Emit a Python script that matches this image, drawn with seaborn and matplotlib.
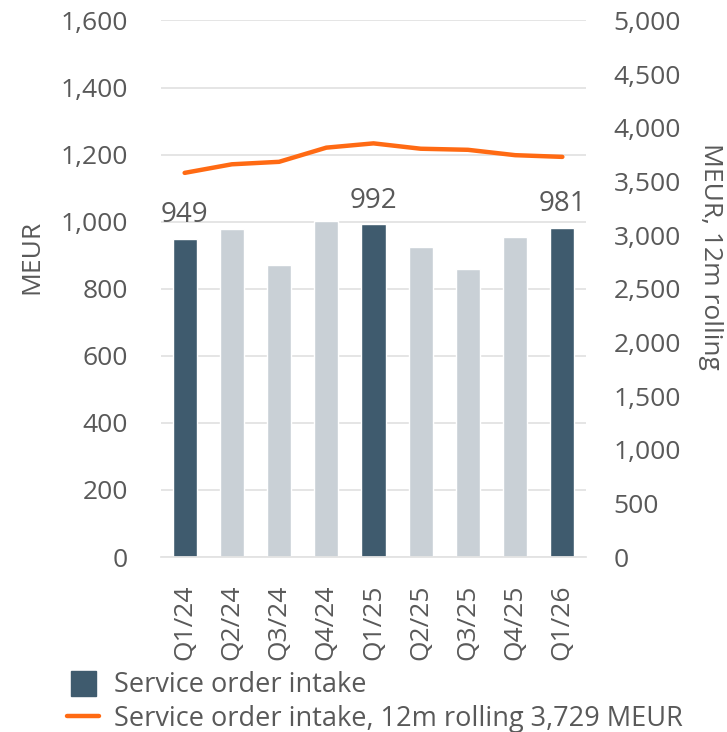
import numpy as np
import pandas as pd
import matplotlib
matplotlib.use("Agg")
import matplotlib.pyplot as plt
import seaborn as sbn
from matplotlib.lines import Line2D
from matplotlib.ticker import FuncFormatter

# Data
quarters = ["Q1/24", "Q2/24", "Q3/24", "Q4/24", "Q1/25", "Q2/25", "Q3/25", "Q4/25", "Q1/26"]
order_intake = [949, 978, 871, 1002, 992, 925, 860, 954, 981]
rolling_12m = [3580, 3660, 3683, 3815, 3855, 3805, 3795, 3745, 3729]
labelled = ["Q1/24", "Q1/25", "Q1/26"]

dark = "#3F5B6E"
light = "#C9D0D6"
orange = "#FF6A13"
grey = "#595959"

sbn.set_style("white")
plt.rcParams["font.family"] = ["Open Sans", "DejaVu Sans"]

df = pd.DataFrame({"quarter": quarters, "intake": order_intake, "rolling": rolling_12m})
colors = [dark if q in labelled else light for q in quarters]

fig = plt.figure(figsize=(7.27, 7.32), dpi=100)
ax = fig.add_axes([0.2215, 0.239, 0.5845, 0.733])

sbn.barplot(data=df, x="quarter", y="intake", hue="quarter", palette=colors,
            width=0.51, legend=False, ax=ax, saturation=1)
ax.set_ylim(0, 1600)
ax.set_xlim(-0.5, 8.5)
ax.set_yticks(range(0, 1601, 200))
ax.yaxis.set_major_formatter(FuncFormatter(lambda v, p: f"{int(v):,}"))
ax.grid(axis="y", color="#E3E3E3", linewidth=1.3)
ax.set_axisbelow(True)
for s in ax.spines.values():
    s.set_visible(False)
ax.spines["bottom"].set_visible(True)
ax.spines["bottom"].set_color("#E3E3E3")
ax.spines["bottom"].set_linewidth(1.3)
ax.tick_params(axis="y", length=0, pad=24, labelsize=19, labelcolor=grey)
ax.tick_params(axis="x", length=0, pad=20, labelsize=19, labelcolor=grey, rotation=90)
ax.set_xlabel("")
ax.set_ylabel("MEUR", fontsize=19, color=grey, va="center")
ax.yaxis.set_label_coords(-0.305, 0.56)

for i, q in enumerate(quarters):
    if q in labelled:
        ax.annotate(f"{order_intake[i]:,}", (i, order_intake[i]), xytext=(0, 7),
                    textcoords="offset points", ha="center", va="bottom",
                    fontsize=20, color=grey)

ax2 = ax.twinx()
sbn.lineplot(data=df, x="quarter", y="rolling", color=orange, linewidth=3.2, ax=ax2)
ax2.set_ylim(0, 5000)
ax2.set_yticks(range(0, 5001, 500))
ax2.yaxis.set_major_formatter(FuncFormatter(lambda v, p: f"{int(v):,}"))
for s in ax2.spines.values():
    s.set_visible(False)
ax2.tick_params(axis="y", length=0, pad=20, labelsize=19, labelcolor=grey)
ax2.set_ylabel("MEUR, 12m rolling", fontsize=19, color=grey, rotation=-90, va="center")
ax2.yaxis.set_label_coords(1.294, 0.56)
ax2.grid(False)

handles = [Line2D([0], [0], color=dark, marker="s", markersize=18, linestyle="none"),
           Line2D([0], [0], color=orange, linewidth=3.2)]
fig.legend(handles, ["Service order intake", "Service order intake, 12m rolling 3,729 MEUR"],
           loc="lower left", bbox_to_anchor=(0.058, -0.034), frameon=False, fontsize=19.5,
           labelcolor=grey, handlelength=1.2, handletextpad=0.55, labelspacing=0.2)

fig.savefig("out.png", dpi=100)
